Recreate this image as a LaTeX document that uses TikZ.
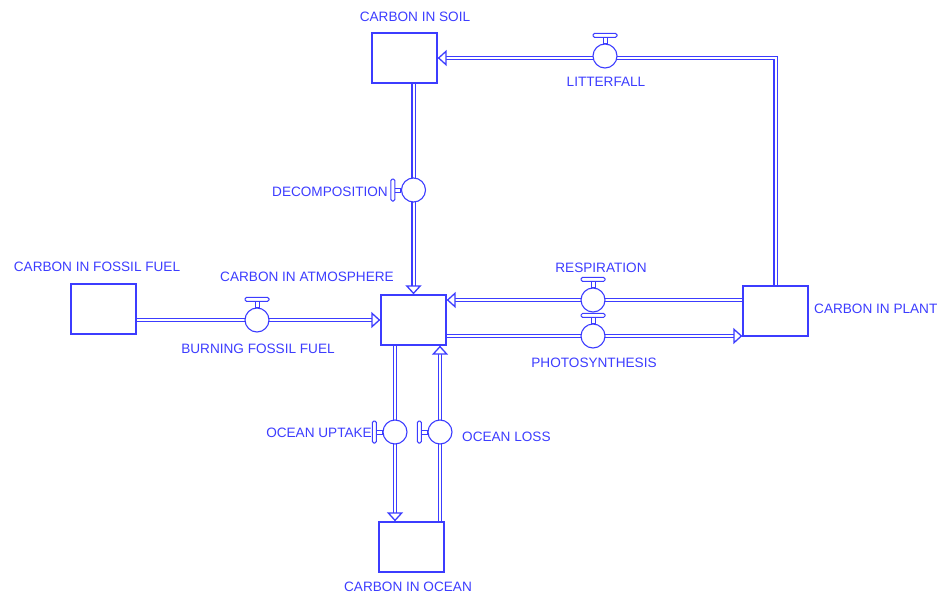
\documentclass[tikz,border=0pt]{standalone}
\usepackage{fontspec}
\setmainfont{Liberation Sans}
\usetikzlibrary{arrows.meta, positioning, backgrounds}
\definecolor{flow}{HTML}{3C3CFF}

\tikzset{
  stock/.style={draw=flow, line width=1.3pt, fill=white,
    minimum width=65pt, minimum height=50pt, inner sep=0pt},
  valve/.style={circle, draw=flow, line width=1.1pt, fill=white,
    minimum size=24pt, inner sep=0pt},
  pipe/.style={draw=flow, line width=1.3pt, double=white, double distance=2pt,
    -{Triangle[open, length=9pt, width=16pt, fill=white]}},
  lbl/.style={text=flow, font=\fontsize{13.6}{15}\selectfont, inner sep=1pt},
  handle up/.pic={
    \draw[flow, line width=1pt, fill=white] (-2,0) rectangle (2,-6);
    \draw[flow, line width=1pt, fill=white, rounded corners=1.5pt]
      (-12,-6) rectangle (12,-10);
  },
  handle left/.pic={
    \draw[flow, line width=1pt, fill=white] (0,-2) rectangle (-6,2);
    \draw[flow, line width=1pt, fill=white, rounded corners=1.5pt]
      (-6,-11) rectangle (-10,11);
  }
}

\begin{document}
\begin{tikzpicture}[x=1pt, y=-1pt]
  \useasboundingbox (0,0) rectangle (938,597);

  % stocks
  \node[stock] (soil)   at (404.5,58)  {};
  \node[stock] (fossil) at (103.5,309) {};
  \node[stock] (atm)    at (413.5,320) {};
  \node[stock] (plant)  at (775.5,311) {};
  \node[stock] (ocean)  at (411.5,547) {};

  % valves
  \node[valve] (lit)   at (605,56)    {};
  \node[valve] (dec)   at (413.5,190) {};
  \node[valve] (burn)  at (257,320)   {};
  \node[valve] (resp)  at (593,300)   {};
  \node[valve] (photo) at (593,336)   {};
  \node[valve] (upt)   at (395,432)   {};
  \node[valve] (loss)  at (440,432)   {};

  \foreach \v in {lit, burn, resp, photo}
    \pic at (\v.north) {handle up};
  \foreach \v in {dec, upt, loss}
    \pic at (\v.west) {handle left};

  % pipes
  \begin{scope}[on background layer]
    \draw[pipe] (plant.north) |- (soil.east);
    \draw[pipe] (atm.north |- soil.south) -- (atm.north);
    \draw[pipe] (fossil.east |- atm.west) -- (atm.west);
    \draw[pipe] (plant.west |- resp) -- (atm.east |- resp);
    \draw[pipe] (atm.east |- photo) -- (plant.west |- photo);
    \draw[pipe] (atm.south -| upt) -- (ocean.north -| upt);
    \draw[pipe] (ocean.north -| loss) -- (atm.south -| loss);
  \end{scope}

  % labels
  \node[lbl] (soilname)   at (415,17)  {CARBON IN SOIL};
  \node[lbl] (fossilname) at (97,267)  {CARBON IN FOSSIL FUEL};
  \node[lbl] (atmname)    at (307,277) {CARBON IN ATMOSPHERE};
  \node[lbl, anchor=west] (plantname) at (813,309) {CARBON IN PLANT};
  \node[lbl] (oceanname)  at (408,587) {CARBON IN OCEAN};
  \node[lbl] (litname)    at (606,82)  {LITTERFALL};
  \node[lbl, anchor=east] (decname) at (389,192) {DECOMPOSITION};
  \node[lbl] (burnname)   at (258,349) {BURNING FOSSIL FUEL};
  \node[lbl] (respname)   at (601,268) {RESPIRATION};
  \node[lbl] (photoname)  at (594,363) {PHOTOSYNTHESIS};
  \node[lbl, anchor=east] (uptname) at (373,433) {OCEAN UPTAKE};
  \node[lbl, anchor=west] (lossname) at (461,437) {OCEAN LOSS};
\end{tikzpicture}
\end{document}
